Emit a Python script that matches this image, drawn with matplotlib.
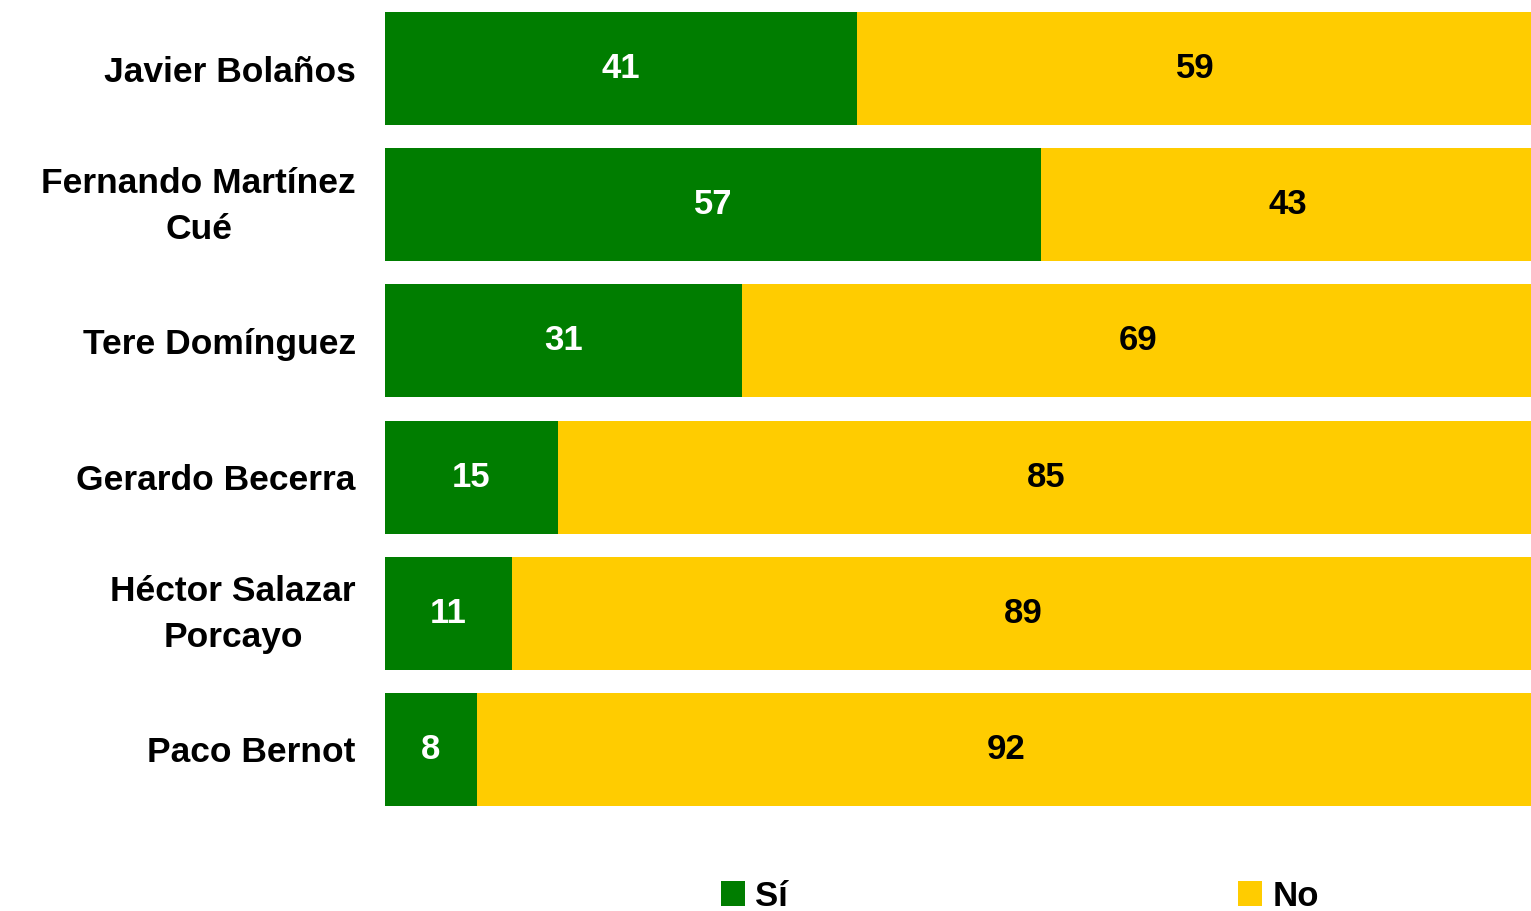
import matplotlib.pyplot as plt
import matplotlib.transforms as mtransforms
import numpy as np

plt.rcParams['font.family'] = ['Liberation Sans', 'DejaVu Sans']

nombres = ['Javier Bolaños', 'Fernando Martínez\nCué', 'Tere Domínguez',
           'Gerardo Becerra', 'Héctor Salazar\nPorcayo', 'Paco Bernot']
si = [41, 57, 31, 15, 11, 8]
no = [59, 43, 69, 85, 89, 92]

verde = '#007D00'
amarillo = '#FFCC00'

fig = plt.figure(figsize=(15.31, 9.11), dpi=100)
# axes spans x 385..1535 px, y 0.4..817.6 px
ax = fig.add_axes([385 / 1531, 1 - 817.6 / 911, 1150 / 1531, 817.2 / 911])

y = np.arange(len(nombres))
b1 = ax.barh(y, si, height=0.83, color=verde, label='Sí')
b2 = ax.barh(y, no, left=si, height=0.83, color=amarillo, label='No')

for i in range(len(nombres)):
    ax.text(si[i] / 2, y[i], str(si[i]), ha='center', va='center',
            color='white', fontsize=25, fontweight='bold')
    ax.text(si[i] + no[i] / 2, y[i], str(no[i]), ha='center', va='center',
            color='black', fontsize=25, fontweight='bold')

ax.set_xlim(0, 100)
ax.set_ylim(len(nombres) - 0.5, -0.5)
ax.set_yticks(y)
ax.set_yticklabels(nombres, fontsize=25.5, fontweight='bold', ha='right',
                   multialignment='center', linespacing=1.5)
ax.tick_params(axis='y', length=0, pad=21)
ax.set_xticks([])
for s in ax.spines.values():
    s.set_visible(False)

# two-line names sit a bit higher in the original
subir = mtransforms.ScaledTranslation(0, 6 / 72, fig.dpi_scale_trans)
for lab in ax.get_yticklabels():
    if '\n' in lab.get_text():
        lab.set_transform(lab.get_transform() + subir)

ax.legend(handles=[b1, b2], loc='center', bbox_to_anchor=(0.552, -0.096),
          ncol=2, frameon=False, prop={'weight': 'bold', 'size': 25},
          handlelength=0.7, handleheight=0.7, handletextpad=0.3,
          columnspacing=12.95)

fig.savefig('out.png', dpi=100)
